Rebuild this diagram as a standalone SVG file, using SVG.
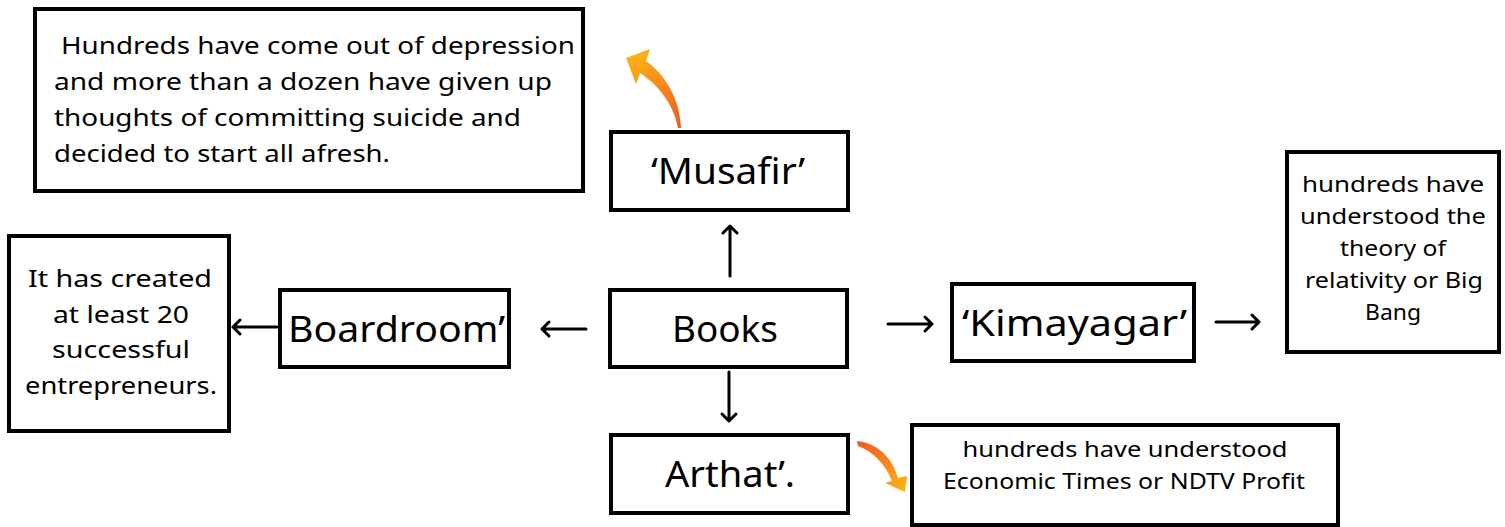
<svg xmlns="http://www.w3.org/2000/svg" width="1505" height="527" viewBox="0 0 1505 527">
<style>
.box{fill:#fff;stroke:#000;stroke-width:4}
.t{font-family:"Noto Sans","Open Sans",sans-serif;fill:#000}
.big{font-size:37px}
.mid{font-size:24px}
.sm{font-size:21.5px}
.c{text-anchor:middle}
.arr{stroke:#000;stroke-width:3;fill:none;stroke-linecap:round;stroke-linejoin:round}
</style>
<defs>
<linearGradient id="g1" gradientUnits="userSpaceOnUse" x1="680" y1="128" x2="630" y2="55">
<stop offset="0" stop-color="#f15a24"/><stop offset="1" stop-color="#fcb515"/>
</linearGradient>
<linearGradient id="g2" gradientUnits="userSpaceOnUse" x1="858" y1="443" x2="905" y2="492">
<stop offset="0" stop-color="#f15a24"/><stop offset="1" stop-color="#fcb515"/>
</linearGradient>
</defs>
<g id="depression">
<rect class="box" x="35" y="9" width="548" height="182"/>
<text class="t mid" x="61" y="54" textLength="514" lengthAdjust="spacingAndGlyphs">Hundreds have come out of depression</text>
<text class="t mid" x="54" y="90" textLength="498" lengthAdjust="spacingAndGlyphs">and more than a dozen have given up</text>
<text class="t mid" x="54" y="126" textLength="467" lengthAdjust="spacingAndGlyphs">thoughts of committing suicide and</text>
<text class="t mid" x="54" y="162" textLength="336" lengthAdjust="spacingAndGlyphs">decided to start all afresh.</text>
</g>
<g id="musafir">
<rect class="box" x="611" y="132" width="237" height="78"/>
<text class="t big c" x="728" y="184" textLength="154" lengthAdjust="spacingAndGlyphs">‘Musafir’</text>
</g>
<g id="books">
<rect class="box" x="610" y="290" width="237" height="77"/>
<text class="t big c" x="725" y="342" textLength="106" lengthAdjust="spacingAndGlyphs">Books</text>
</g>
<g id="boardroom">
<rect class="box" x="280" y="290" width="229" height="77"/>
<text class="t big" x="288" y="342" textLength="217" lengthAdjust="spacingAndGlyphs">Boardroom’</text>
</g>
<g id="entrepreneurs">
<rect class="box" x="9" y="236" width="220" height="195"/>
<text class="t mid c" x="120" y="287" textLength="184" lengthAdjust="spacingAndGlyphs">It has created</text>
<text class="t mid c" x="121" y="323" textLength="136" lengthAdjust="spacingAndGlyphs">at least 20</text>
<text class="t mid c" x="121" y="358" textLength="138" lengthAdjust="spacingAndGlyphs">successful</text>
<text class="t mid c" x="121" y="394" textLength="192" lengthAdjust="spacingAndGlyphs">entrepreneurs.</text>
</g>
<g id="kimayagar">
<rect class="box" x="952" y="284" width="242" height="77"/>
<text class="t big" x="962" y="336" textLength="225" lengthAdjust="spacingAndGlyphs">‘Kimayagar’</text>
</g>
<g id="relativity">
<rect class="box" x="1287" y="152" width="212" height="200"/>
<text class="t sm c" x="1393" y="192" textLength="182" lengthAdjust="spacingAndGlyphs">hundreds have</text>
<text class="t sm c" x="1393" y="224" textLength="186" lengthAdjust="spacingAndGlyphs">understood the</text>
<text class="t sm c" x="1393" y="256" textLength="106" lengthAdjust="spacingAndGlyphs">theory of</text>
<text class="t sm c" x="1394" y="288" textLength="178" lengthAdjust="spacingAndGlyphs">relativity or Big</text>
<text class="t sm c" x="1393" y="320" textLength="56" lengthAdjust="spacingAndGlyphs">Bang</text>
</g>
<g id="arthat">
<rect class="box" x="611" y="435" width="237" height="78"/>
<text class="t big c" x="730" y="487" textLength="130" lengthAdjust="spacingAndGlyphs">Arthat’.</text>
</g>
<g id="economic">
<rect class="box" x="912" y="425" width="426" height="100"/>
<text class="t sm c" x="1125" y="457" textLength="325" lengthAdjust="spacingAndGlyphs">hundreds have understood</text>
<text class="t sm c" x="1124" y="489" textLength="362" lengthAdjust="spacingAndGlyphs">Economic Times or NDTV Profit</text>
</g>
<g id="connectors">
<path class="arr" d="M730,276 V226 M723,233 L730,226 L737,233"/>
<path class="arr" d="M586,329 H542 M549,322 L542,329 L549,336"/>
<path class="arr" d="M888,324 H932 M925,317 L932,324 L925,331"/>
<path class="arr" d="M729,372 V421 M722,414 L729,421 L736,414"/>
<path class="arr" d="M277,327 H233 M240,320 L233,327 L240,334"/>
<path class="arr" d="M1216,322 H1259 M1252,315 L1259,322 L1252,329"/>
<path fill="url(#g1)" d="M626,58 L650,49 L646,61 C666,75 680,100 681,128 L678,128 C674,106 660,86 640,73 L636,84 Z"/>
<path fill="url(#g2)" d="M857,441 C876,443 892,456 898,478 L907,476 L905,492 L885,483 L892,481 C885,463 872,451 858,446 Z"/>
</g>
</svg>
